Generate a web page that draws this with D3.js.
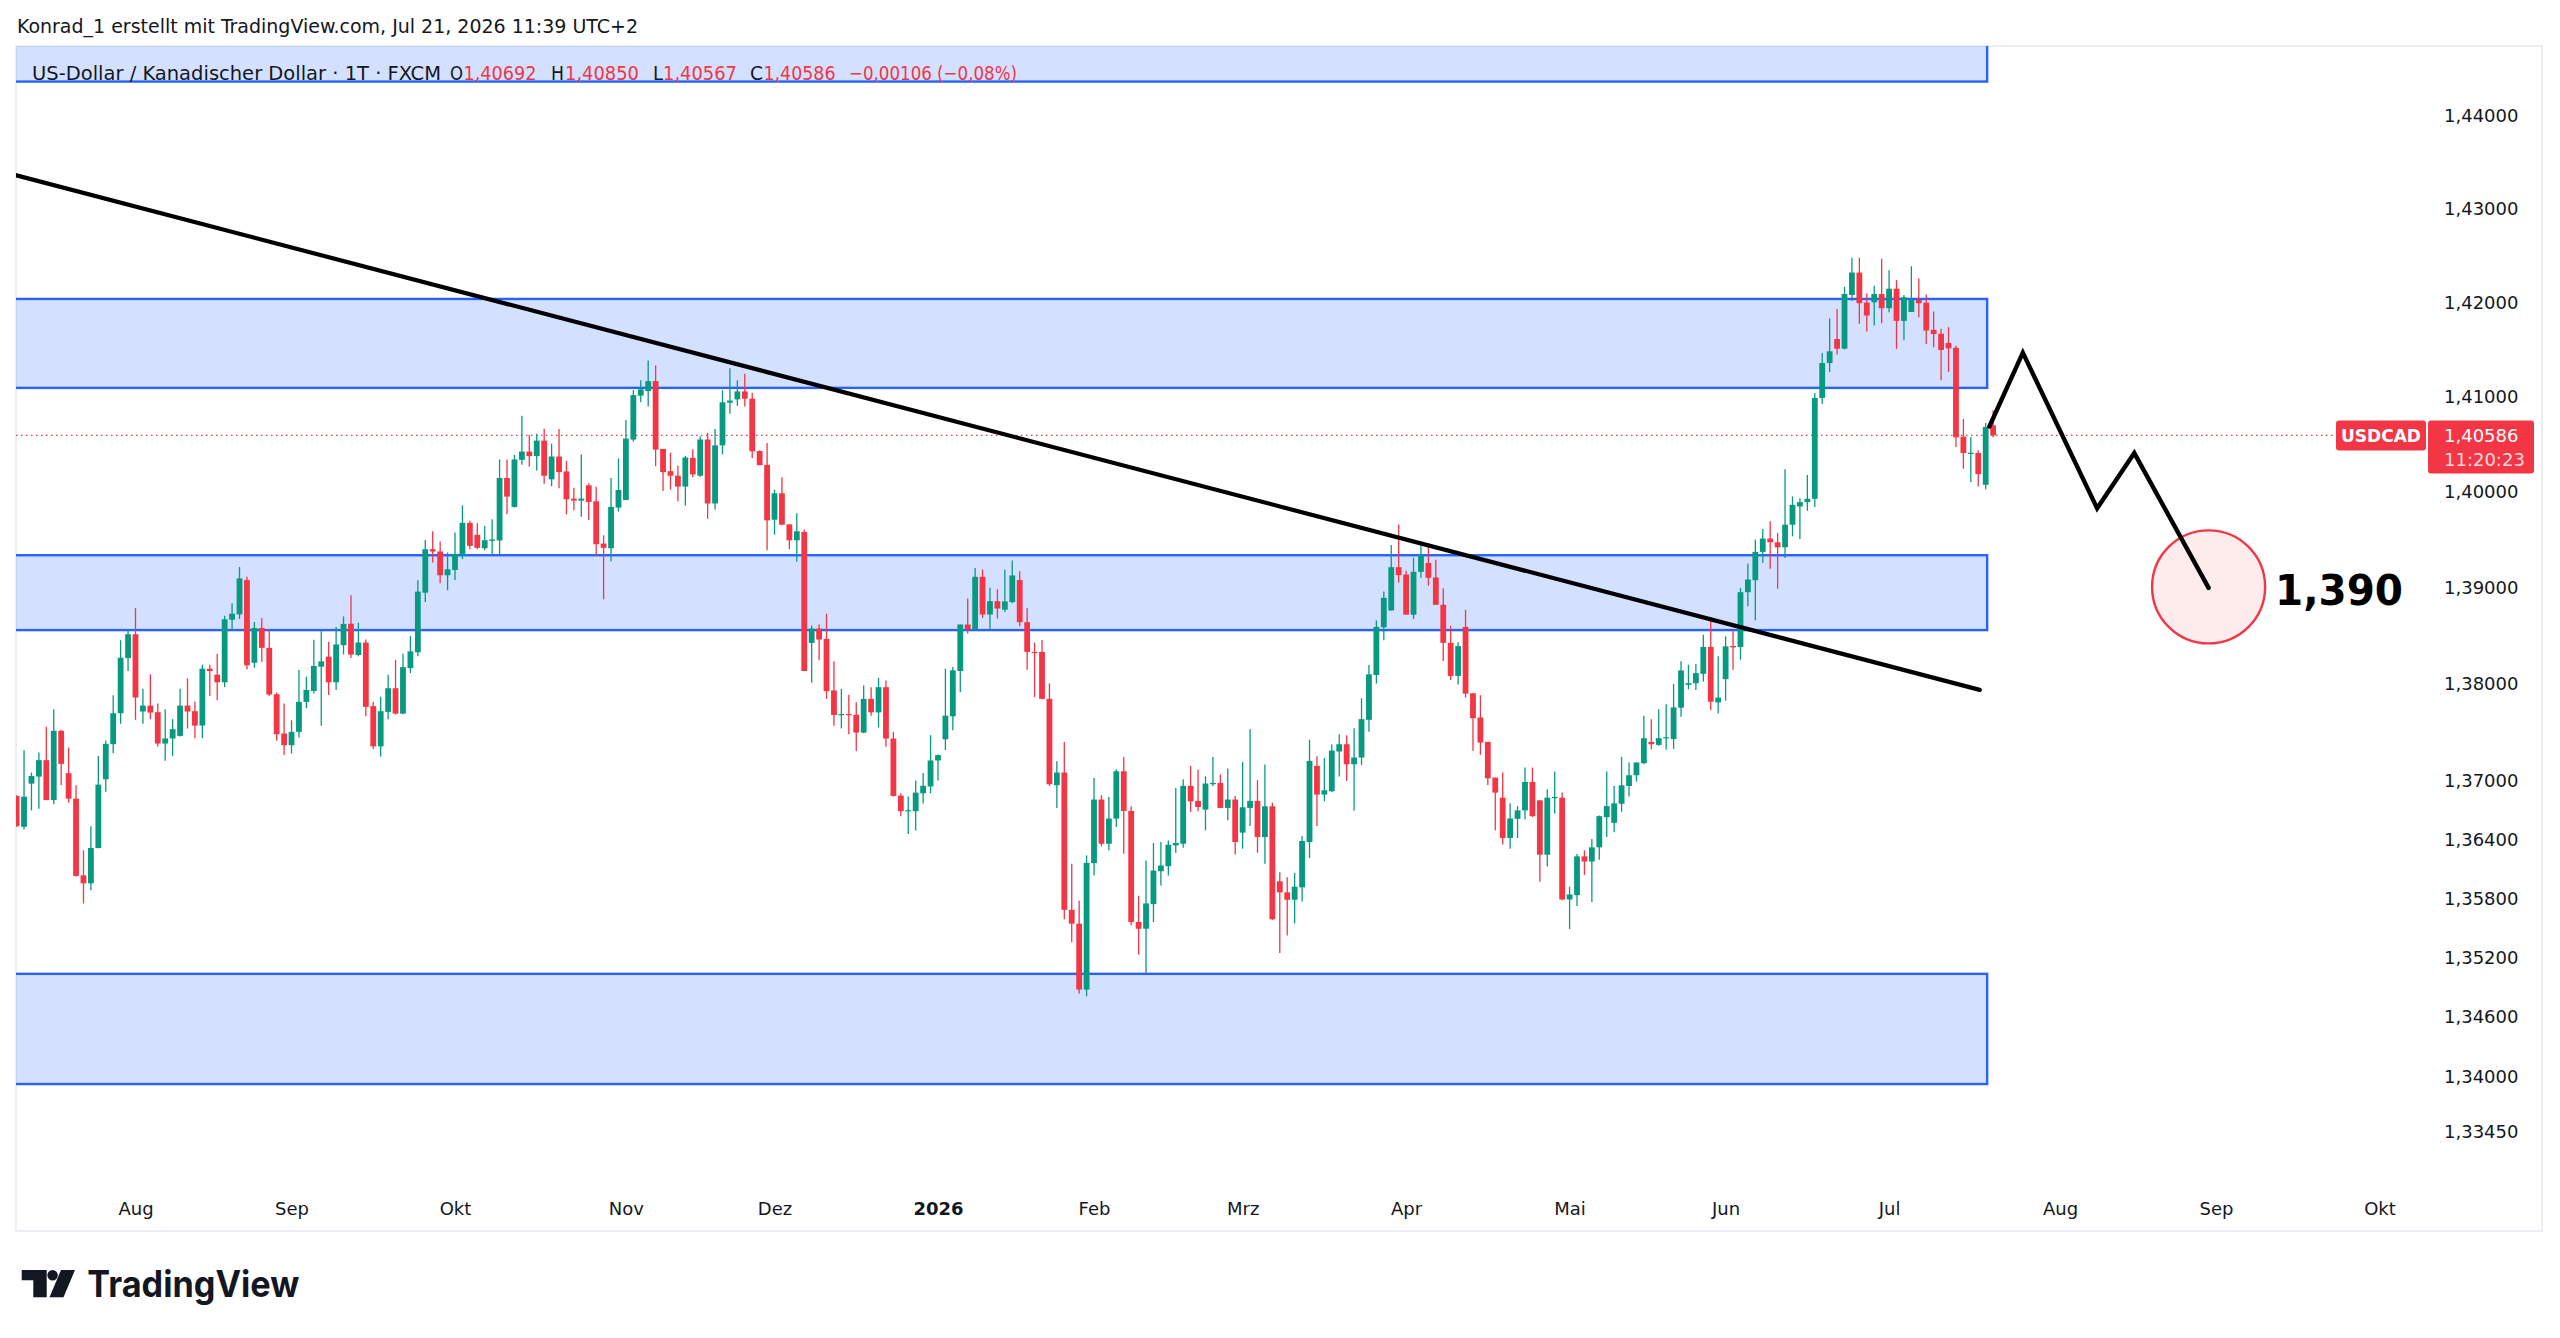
<!DOCTYPE html>
<html>
<head>
<meta charset="utf-8">
<script src="https://cdn.jsdelivr.net/npm/d3@7"></script>
<style>
  body { margin: 0; background: #ffffff; }
  svg { display: block; }
</style>
</head>
<body>
<div id="chart"></div>
<script>
// USDCAD daily (1T) candles, Jul 10 2025 - Jul 21 2026, one line per month
var opens = [
  1.36840,1.36525,1.36967,1.37039,1.37208,1.36799,1.37510,1.37074,1.36813,1.36030,1.35948,1.36308,1.37012,1.37372,1.37691,1.38261,
  1.38508,1.37709,1.37770,1.37702,1.37379,1.37431,1.37458,1.37770,1.37712,1.37564,1.38151,1.38089,1.38011,1.38659,1.38714,1.39071,1.38213,1.38573,1.38367,1.37887,1.37482,
  1.37362,1.37499,1.37808,1.37921,1.38172,1.38275,1.38011,1.38395,1.38617,1.38293,1.38422,1.37764,1.37350,1.37705,1.37949,1.37687,1.38157,1.38321,1.38940,1.39393,1.39369,1.39121,
  1.39177,1.39334,1.39668,1.39543,1.39403,1.39480,1.39484,1.40138,1.39835,1.40329,1.40416,1.40368,1.40531,1.40124,1.40364,1.40207,1.39922,1.39901,1.40061,1.39894,1.39452,1.39403,1.39828,
  1.39908,1.40542,1.41005,1.41053,1.41158,1.40444,1.40210,1.40162,1.40048,1.40349,1.40162,1.40543,1.39871,1.40481,1.40931,1.40966,1.41050,1.40973,1.40422,1.40276,
  1.39701,1.39978,1.39652,1.39486,1.39573,1.38418,1.38567,1.38460,1.37926,1.37673,1.37683,1.37676,1.37492,1.37839,1.37700,1.37960,1.37430,1.36844,1.36685,1.36685,1.36868,1.36938,
  1.37205,1.37423,1.37659,1.38127,1.38609,1.38557,1.39105,1.38713,1.38851,1.38763,1.38842,1.39071,1.38633,1.38325,1.38325,1.37840,1.36951,1.37081,1.35679,1.35538,1.34871,
  1.36154,1.36804,1.36352,1.36609,1.37094,1.36687,1.35555,1.35487,1.35737,1.36072,1.36123,1.36335,1.36352,1.36944,1.36790,1.36701,1.36961,1.36974,1.36718,1.36804,
  1.36465,1.36718,1.36790,1.36421,1.36735,1.35969,1.35856,1.35781,1.35907,1.36369,1.37149,1.36855,1.36889,1.37297,1.37372,1.37166,1.37235,1.37623,1.38086,1.38580,1.38755,1.39205,
  1.39129,1.38711,1.39157,1.39249,1.39098,1.38814,1.38419,1.38076,1.38584,1.37897,1.37647,1.37396,1.37029,1.36823,1.36411,1.36607,1.36693,1.36984,1.36796,1.36240,1.36820,1.36823,
  1.35784,1.35828,1.36223,1.36171,1.36315,1.36624,1.36566,1.36761,1.36943,1.37053,1.37177,1.37396,1.37365,1.37437,1.37425,1.37748,1.37984,1.38001,1.38098,1.38376,1.37803,
  1.38043,1.38386,1.38376,1.38945,1.39070,1.39365,1.39504,1.39465,1.39413,1.39649,1.39840,1.39885,1.39920,1.40981,1.41350,1.41604,1.41502,1.42072,1.42311,1.41991,1.41994,1.42082,
  1.41931,1.42139,1.41797,1.41892,1.42019,1.41991,1.41702,1.41660,1.41562,1.41512,1.40573,1.40397,1.40401,1.40067,1.40692
];
var highs = [
  1.36847,1.37310,1.37081,1.37286,1.37551,1.37733,1.37520,1.37338,1.36950,1.36284,1.36531,1.37252,1.37410,1.37877,1.38446,1.38563,
  1.38779,1.37945,1.38093,1.37791,1.37733,1.37630,1.37945,1.38052,1.37812,1.38192,1.38192,1.38306,1.38700,1.38831,1.39208,1.39105,1.38635,1.38676,1.38563,1.37904,1.37791,
  1.37619,1.38138,1.38069,1.38450,1.38539,1.38429,1.38584,1.38693,1.38913,1.38627,1.38453,1.37809,1.37861,1.38088,1.38244,1.38307,1.38488,1.39069,1.39490,1.39581,1.39473,1.39358,
  1.39567,1.39852,1.39689,1.39664,1.39637,1.39706,1.40333,1.40333,1.40381,1.40792,1.40594,1.40604,1.40656,1.40500,1.40653,1.40319,1.40037,1.40385,1.40082,1.40047,1.39539,1.40138,1.40343,
  1.40747,1.41064,1.41168,1.41377,1.41325,1.40444,1.40405,1.40266,1.40370,1.40439,1.40578,1.40613,1.40654,1.41063,1.41296,1.41167,1.41237,1.41036,1.40429,1.40505,
  1.40016,1.40145,1.39652,1.39770,1.39600,1.38595,1.38609,1.38720,1.38227,1.37943,1.37881,1.37805,1.37978,1.37960,1.38057,1.38030,1.37499,1.36868,1.36834,1.37000,1.37076,1.37465,
  1.37267,1.38151,1.38168,1.38609,1.38879,1.39198,1.39181,1.38990,1.38976,1.39180,1.39276,1.39163,1.38780,1.38421,1.38448,1.37999,1.37197,1.37395,1.36147,1.35771,1.36233,
  1.37026,1.36848,1.36831,1.37115,1.37241,1.36735,1.35822,1.36181,1.36359,1.36369,1.36386,1.36923,1.37012,1.37149,1.37111,1.37043,1.37241,1.37060,1.37122,1.36841,
  1.37190,1.37525,1.37002,1.37163,1.36773,1.36061,1.36010,1.36055,1.36431,1.37419,1.37248,1.37231,1.37368,1.37475,1.37465,1.37537,1.37846,1.38189,1.38652,1.38951,1.39438,1.39648,
  1.39167,1.39304,1.39476,1.39455,1.39284,1.38985,1.38597,1.38426,1.38762,1.37897,1.37877,1.37396,1.37029,1.37081,1.36765,1.36737,1.37132,1.37132,1.36796,1.36909,1.37091,1.36875,
  1.35914,1.36247,1.36285,1.36401,1.36641,1.37091,1.36943,1.37242,1.37184,1.37184,1.37664,1.37630,1.37733,1.37784,1.37994,1.38227,1.38192,1.38199,1.38504,1.38688,1.38279,
  1.38487,1.38539,1.38990,1.39243,1.39493,1.39604,1.39684,1.39563,1.40229,1.39944,1.39927,1.40170,1.41034,1.41456,1.41822,1.41924,1.42160,1.42469,1.42469,1.42089,1.42170,1.42459,
  1.42336,1.42230,1.42072,1.42378,1.42248,1.42079,1.41896,1.41713,1.41730,1.41533,1.40760,1.40570,1.40429,1.40717,1.40850
];
var lows = [
  1.36525,1.36497,1.36693,1.36710,1.36796,1.36755,1.36954,1.36772,1.36017,1.35742,1.35879,1.36305,1.36885,1.37280,1.37582,1.38127,
  1.37623,1.37582,1.37630,1.37348,1.37201,1.37252,1.37451,1.37534,1.37434,1.37434,1.37870,1.37825,1.37963,1.38546,1.38666,1.38144,1.38162,1.38220,1.37870,1.37407,1.37262,
  1.37276,1.37441,1.37743,1.37894,1.37561,1.37880,1.37932,1.38299,1.38262,1.38279,1.37660,1.37322,1.37245,1.37628,1.37677,1.37681,1.38105,1.38279,1.38843,1.39254,1.39038,1.38965,
  1.39073,1.39289,1.39393,1.39393,1.39383,1.39334,1.39337,1.39758,1.39828,1.40277,1.40256,1.40218,1.40079,1.40051,1.40030,1.39758,1.39800,1.39731,1.39699,1.39330,1.38871,1.39268,1.39786,
  1.39908,1.40521,1.40935,1.40890,1.40263,1.40002,1.40016,1.39895,1.39850,1.40145,1.40151,1.39711,1.39808,1.40387,1.40814,1.40897,1.40890,1.40349,1.40273,1.39382,
  1.39545,1.39642,1.39392,1.39261,1.38127,1.38006,1.38238,1.37839,1.37562,1.37534,1.37475,1.37302,1.37485,1.37666,1.37544,1.37347,1.36834,1.36632,1.36452,1.36487,1.36764,1.36868,
  1.37000,1.37312,1.37517,1.37908,1.38515,1.38557,1.38678,1.38550,1.38671,1.38739,1.38831,1.38592,1.38141,1.37857,1.37833,1.36944,1.36718,1.35583,1.35350,1.34830,1.34803,
  1.36027,1.36325,1.36284,1.36523,1.36250,1.35521,1.35224,1.35036,1.35555,1.35925,1.36027,1.36260,1.36311,1.36677,1.36684,1.36489,1.36944,1.36718,1.36592,1.36243,
  1.36301,1.36533,1.36260,1.36147,1.35576,1.35241,1.35419,1.35542,1.35764,1.36205,1.36533,1.36786,1.36882,1.37039,1.36995,1.36693,1.37156,1.37499,1.37997,1.38446,1.38755,1.39044,
  1.38711,1.38666,1.39095,1.39013,1.38814,1.38230,1.38035,1.37987,1.37853,1.37304,1.37263,1.36954,1.36490,1.36343,1.36302,1.36411,1.36600,1.36624,1.35965,1.36120,1.36662,1.35777,
  1.35485,1.35718,1.36034,1.35759,1.36188,1.36422,1.36470,1.36679,1.36834,1.36988,1.37166,1.37321,1.37355,1.37314,1.37324,1.37654,1.37939,1.37932,1.38018,1.37723,1.37689,
  1.37821,1.38140,1.38244,1.38799,1.38653,1.39250,1.39188,1.38980,1.39302,1.39528,1.39500,1.39795,1.39833,1.40918,1.41256,1.41439,1.41495,1.42008,1.41766,1.41685,1.41748,1.41773,
  1.41889,1.41498,1.41590,1.41892,1.41836,1.41551,1.41516,1.41168,1.41256,1.40464,1.40235,1.40095,1.40049,1.40021,1.40567
];
var closes = [
  1.36531,1.36833,1.37046,1.37208,1.36799,1.37510,1.37170,1.36813,1.36024,1.35948,1.36308,1.36957,1.37376,1.37691,1.38265,1.38508,
  1.37853,1.37770,1.37698,1.37379,1.37431,1.37527,1.37770,1.37709,1.37564,1.38151,1.38127,1.38011,1.38663,1.38721,1.39088,1.38186,1.38573,1.38367,1.37884,1.37475,1.37362,
  1.37499,1.37808,1.37932,1.38179,1.38227,1.38011,1.38402,1.38615,1.38297,1.38422,1.37757,1.37350,1.37712,1.37949,1.37687,1.38168,1.38331,1.38951,1.39393,1.39369,1.39121,1.39184,
  1.39344,1.39668,1.39428,1.39407,1.39487,1.39494,1.40138,1.39943,1.40333,1.40416,1.40368,1.40531,1.40162,1.40364,1.40200,1.39915,1.39901,1.39922,1.39887,1.39445,1.39407,1.39835,1.40013,
  1.40552,1.41011,1.41071,1.41158,1.40437,1.40200,1.40162,1.40048,1.40353,1.40176,1.40543,1.39871,1.40481,1.40935,1.40953,1.41050,1.40973,1.40419,1.40273,1.39694,
  1.39978,1.39649,1.39486,1.39580,1.38127,1.38567,1.38453,1.37919,1.37673,1.37683,1.37673,1.37492,1.37839,1.37700,1.37960,1.37430,1.36841,1.36685,1.36695,1.36875,1.36945,1.37205,
  1.37260,1.37666,1.38134,1.38609,1.38557,1.39105,1.38713,1.38851,1.38775,1.38849,1.39119,1.38633,1.38325,1.38318,1.37840,1.36961,1.37081,1.35679,1.35538,1.34871,1.36157,
  1.36804,1.36352,1.36609,1.37094,1.36687,1.35555,1.35487,1.35744,1.36078,1.36130,1.36342,1.36359,1.36944,1.36786,1.36728,1.36968,1.36974,1.36718,1.36804,1.36369,
  1.36725,1.36790,1.36421,1.36735,1.35583,1.35856,1.35781,1.35914,1.36380,1.37200,1.36855,1.36899,1.37306,1.37372,1.37166,1.37235,1.37630,1.38093,1.38584,1.38886,1.39205,1.39122,
  1.38711,1.39157,1.39332,1.39095,1.38814,1.38419,1.38076,1.38385,1.37894,1.37640,1.37389,1.37022,1.36875,1.36411,1.36610,1.36693,1.36984,1.36634,1.36240,1.36823,1.36830,1.35784,
  1.35835,1.36223,1.36171,1.36315,1.36634,1.36737,1.36765,1.36950,1.37053,1.37184,1.37434,1.37372,1.37434,1.37444,1.37751,1.38133,1.38001,1.38105,1.38376,1.37810,1.37852,
  1.38383,1.38372,1.38945,1.39077,1.39365,1.39504,1.39465,1.39413,1.39649,1.39857,1.39885,1.39920,1.40981,1.41350,1.41474,1.41502,1.42082,1.42311,1.41984,1.41854,1.42082,1.41931,
  1.42139,1.41797,1.42047,1.42019,1.41984,1.41695,1.41657,1.41488,1.41505,1.40566,1.40401,1.40404,1.40179,1.40675,1.40586
];

// trading calendar (weekdays, two closed days) and axis words
var firstDay = "2025-07-10";
var lastDay = "2026-07-21";
var axisEndDay = "2026-10-30";
var closedDays = ["2025-12-25", "2026-01-01"];
var monthNames = ["Jan","Feb","Mrz","Apr","Mai","Jun","Jul","Aug","Sep","Okt","Nov","Dez"];
var priceTicks = [1.44, 1.43, 1.42, 1.41, 1.40, 1.39, 1.38, 1.37, 1.364, 1.358, 1.352, 1.346, 1.34, 1.3345];

// drawings: supply/demand zones, trend line, forecast path (bar index, price)
var zoneTop    = [1.4500, 1.42030, 1.39330, 1.35030];
var zoneBottom = [1.44361, 1.41087, 1.38551, 1.33920];
var zoneEndIdx = 265.2;
var trendIdx = [-1, 264.2];
var trendPx  = [1.43371, 1.37932];
var pathIdx = [265.5, 270, 280, 285, 295];
var pathPx  = [1.4068, 1.4146, 1.3982, 1.4040, 1.3899];
var targetIdx = 295, targetPx = 1.390, targetLabel = "1,390";

var symbol = "USDCAD", lastPrice = 1.40586, countdown = "11:20:23";
var headerText = "Konrad_1 erstellt mit TradingView.com, Jul 21, 2026 11:39 UTC+2";
var legendName = "US-Dollar / Kanadischer Dollar \u00b7 1T \u00b7 FXCM";
var legendChange = "\u22120,00106 (\u22120,08%)";

var upColor = "#089981", downColor = "#F23645", zoneColor = "#2962FF", ink = "#131722";

var W = 2560, H = 1338;
var pane = {left: 16, top: 46, right: 2542, bottom: 1231, plotRight: 2430, plotBottom: 1190};

function tradingDays(from, to, closed) {
  var out = [];
  var d = new Date(from + "T12:00:00Z"), end = new Date(to + "T12:00:00Z");
  for (; d <= end; d.setUTCDate(d.getUTCDate() + 1)) {
    var wd = d.getUTCDay(), iso = d.toISOString().slice(0, 10);
    if (wd === 0 || wd === 6 || closed.indexOf(iso) >= 0) continue;
    out.push(new Date(d));
  }
  return out;
}

var dates = tradingDays(firstDay, lastDay, closedDays);
var axisDates = tradingDays(firstDay, axisEndDay, closedDays);
if (dates.length !== opens.length) console.warn("bars/dates mismatch", dates.length, opens.length);

var candles = dates.map(function(d, i) {
  return {i: i, date: d, o: opens[i], h: highs[i], l: lows[i], c: closes[i]};
});

var xScale = d3.scaleLinear().domain([0, 318]).range([16.6, 16.6 + 318 * 7.4305]);
var yScale = d3.scaleLog().domain([1.44, 1.3345]).range([115, 1131]);
var barW = 5.8;

var deLocale = d3.formatLocale({decimal: ",", thousands: ".", grouping: [3], currency: ["", "\u20ac"]});
var fmtPrice = deLocale.format(".5f");

var svg = d3.select("#chart").append("svg")
  .attr("width", W)
  .attr("height", H)
  .style("font-family", "'DejaVu Sans', Verdana, sans-serif");

svg.append("rect").attr("width", W).attr("height", H).attr("fill", "#ffffff");

svg.append("defs").append("clipPath").attr("id", "plotClip")
  .append("rect")
  .attr("x", pane.left).attr("y", pane.top)
  .attr("width", pane.plotRight - pane.left)
  .attr("height", pane.plotBottom - pane.top);

// chart frame
svg.append("rect")
  .attr("x", pane.left).attr("y", pane.top)
  .attr("width", pane.right - pane.left).attr("height", pane.bottom - pane.top)
  .attr("fill", "none").attr("stroke", "#eceef3").attr("stroke-width", 2);

var plot = svg.append("g").attr("clip-path", "url(#plotClip)");

// zones
plot.selectAll("rect.zone")
  .data(zoneTop.map(function(t, k) { return {top: t, bottom: zoneBottom[k]}; }))
  .enter().append("rect")
  .attr("class", "zone")
  .attr("x", xScale(-10))
  .attr("y", function(d) { return yScale(d.top); })
  .attr("width", xScale(zoneEndIdx) - xScale(-10))
  .attr("height", function(d) { return yScale(d.bottom) - yScale(d.top); })
  .attr("fill", "rgba(41,98,255,0.2)")
  .attr("stroke", zoneColor)
  .attr("stroke-width", 2.4);

// last price dotted line
plot.append("line")
  .attr("x1", pane.left).attr("x2", 2336)
  .attr("y1", yScale(lastPrice)).attr("y2", yScale(lastPrice))
  .attr("stroke", downColor).attr("stroke-width", 1.3)
  .attr("stroke-dasharray", "1.5,3.5");

// candles
var bars = plot.selectAll("g.bar").data(candles).enter().append("g").attr("class", "bar");

bars.append("line")
  .attr("x1", function(d) { return xScale(d.i); })
  .attr("x2", function(d) { return xScale(d.i); })
  .attr("y1", function(d) { return yScale(d.h); })
  .attr("y2", function(d) { return yScale(d.l); })
  .attr("stroke", function(d) { return d.c >= d.o ? upColor : downColor; })
  .attr("stroke-width", 1.3);

bars.append("rect")
  .attr("x", function(d) { return xScale(d.i) - barW / 2; })
  .attr("y", function(d) { return yScale(Math.max(d.o, d.c)); })
  .attr("width", barW)
  .attr("height", function(d) { return Math.max(1.2, yScale(Math.min(d.o, d.c)) - yScale(Math.max(d.o, d.c))); })
  .attr("fill", function(d) { return d.c >= d.o ? upColor : downColor; });

// trend line
plot.append("line")
  .attr("x1", xScale(trendIdx[0])).attr("y1", yScale(trendPx[0]))
  .attr("x2", xScale(trendIdx[1])).attr("y2", yScale(trendPx[1]))
  .attr("stroke", "#000000").attr("stroke-width", 4.2).attr("stroke-linecap", "round");

// target circle
plot.append("circle")
  .attr("cx", xScale(targetIdx)).attr("cy", yScale(targetPx))
  .attr("r", 56.5)
  .attr("fill", "rgba(242,54,69,0.1)")
  .attr("stroke", downColor).attr("stroke-width", 2.4);

// forecast zigzag
var zig = d3.line()
  .x(function(d) { return xScale(d[0]); })
  .y(function(d) { return yScale(d[1]); });
plot.append("path")
  .datum(pathIdx.map(function(v, k) { return [v, pathPx[k]]; }))
  .attr("d", zig)
  .attr("fill", "none")
  .attr("stroke", "#000000").attr("stroke-width", 4.4)
  .attr("stroke-linejoin", "miter").attr("stroke-linecap", "round");

plot.append("text")
  .attr("x", 2275).attr("y", yScale(targetPx) + 18)
  .attr("font-size", 42).attr("font-weight", "bold").attr("fill", "#000000")
  .attr("textLength", 128).attr("lengthAdjust", "spacingAndGlyphs")
  .text(targetLabel);

// price axis
var yAxis = d3.axisRight(yScale)
  .tickValues(priceTicks)
  .tickFormat(fmtPrice)
  .tickSize(0).tickPadding(0);
var yAxisG = svg.append("g").attr("transform", "translate(2444,0)").call(yAxis);
yAxisG.select(".domain").remove();
yAxisG.selectAll("text").attr("font-size", 18).attr("fill", ink)
  .attr("font-family", "'DejaVu Sans', Verdana, sans-serif").attr("dy", "0.36em");

// time axis: first bar of each month
var monthStarts = [];
axisDates.forEach(function(d, i) {
  if (i > 0 && d.getUTCMonth() !== axisDates[i - 1].getUTCMonth()) monthStarts.push(i);
});
var xAxis = d3.axisBottom(xScale)
  .tickValues(monthStarts)
  .tickFormat(function(i) {
    var d = axisDates[i];
    return d.getUTCMonth() === 0 ? String(d.getUTCFullYear()) : monthNames[d.getUTCMonth()];
  })
  .tickSize(0).tickPadding(0);
var xAxisG = svg.append("g").attr("transform", "translate(0,1202)").call(xAxis);
xAxisG.select(".domain").remove();
xAxisG.selectAll("text").attr("font-size", 18).attr("fill", ink)
  .attr("font-family", "'DejaVu Sans', Verdana, sans-serif")
  .attr("font-weight", function(i) { return axisDates[i].getUTCMonth() === 0 ? "bold" : "normal"; });

// last price labels
var yLast = yScale(lastPrice);
svg.append("rect").attr("x", 2336).attr("y", yLast - 15).attr("width", 90).attr("height", 30)
  .attr("rx", 3).attr("fill", downColor);
svg.append("text").attr("x", 2381).attr("y", yLast + 6.5).attr("text-anchor", "middle")
  .attr("font-size", 17).attr("font-weight", 600).attr("fill", "#ffffff").text(symbol);
svg.append("rect").attr("x", 2428).attr("y", yLast - 15).attr("width", 106).attr("height", 53)
  .attr("rx", 3).attr("fill", downColor);
svg.append("text").attr("x", 2444).attr("y", yLast + 6.5)
  .attr("font-size", 18).attr("fill", "#ffffff").text(fmtPrice(lastPrice));
svg.append("text").attr("x", 2444).attr("y", yLast + 30.5)
  .attr("font-size", 18).attr("fill", "rgba(255,255,255,0.82)").text(countdown);

// header and legend
var narrow = "'DejaVu Sans Condensed', 'Liberation Sans Narrow', 'Roboto', sans-serif";
function label(x, y, str, width, color) {
  return svg.append("text").attr("x", x).attr("y", y)
    .attr("font-family", narrow).attr("font-size", 20).attr("fill", color || ink)
    .attr("textLength", width).attr("lengthAdjust", "spacingAndGlyphs")
    .text(str);
}
label(17, 33, headerText, 621);
label(32, 80, legendName, 409);
label(450, 80, "O", 13);
label(463.5, 80, fmtPrice(opens[opens.length - 1]), 73, downColor);
label(551, 80, "H", 13);
label(565, 80, fmtPrice(highs[highs.length - 1]), 74, downColor);
label(653, 80, "L", 10);
label(663, 80, fmtPrice(lows[lows.length - 1]), 74, downColor);
label(750, 80, "C", 13);
label(763.5, 80, fmtPrice(closes[closes.length - 1]), 72, downColor);
label(849, 80, legendChange, 168, downColor);

// TradingView logo
var logo = svg.append("g").attr("fill", "#131722");
logo.append("path").attr("d", "M21.7,1270 H46.7 V1297.3 H33.3 V1280.2 H21.7 Z");
logo.append("circle").attr("cx", 52.6).attr("cy", 1275.2).attr("r", 5.2);
logo.append("path").attr("d", "M61,1270 H75 L63.5,1297.3 H49.5 Z");
logo.append("text").attr("x", 87.3).attr("y", 1297.3)
  .attr("font-family", "Inter, 'Noto Sans', sans-serif").attr("font-weight", 700)
  .attr("font-size", 37).attr("textLength", 212).attr("lengthAdjust", "spacingAndGlyphs")
  .text("TradingView");
</script>
</body>
</html>
